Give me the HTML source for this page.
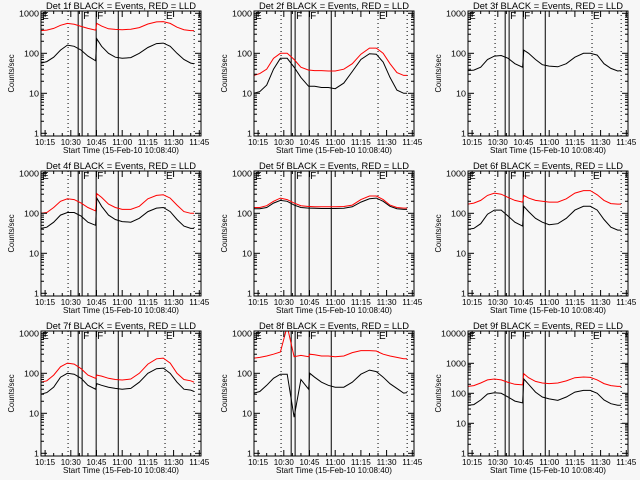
<!DOCTYPE html>
<html><head><meta charset="utf-8"><style>
html,body{margin:0;padding:0;background:#f7f7f7;}
svg{display:block;font-family:"Liberation Sans",sans-serif;}
</style></head><body>
<svg id="c" width="640" height="480" viewBox="0 0 640 480"></svg>
<script>
const times=[12.6,16,20,24,28,32,36,40,44.5,45.2,48,52,56,60,65,70,75,80,84,88,92,96,100,102];
const xTickLabels=["10:15","10:30","10:45","11:00","11:15","11:30","11:45"];
const xTickMinutes=[15,30,45,60,75,90,105];
const solidLines=[34.3,36.6,44.8,57.7];
const dottedLines=[28.4,85,102];
const det1Black=[57,62,80,120,160,150,120,85,65,230,150,100,80,75,78,100,140,175,180,150,100,70,57,55];
const det1Red=[370,380,420,500,560,530,470,420,380,560,480,410,395,390,400,440,540,610,620,560,450,390,370,370];
const det2Black=[10,11,16,40,75,75,45,25,15,15,15,14,14,13,18,35,70,98,95,60,25,12,10,10];
const det2Red=[28,31,40,75,100,100,70,45,38,38,37,37,36,36,40,55,95,135,135,100,55,33,28,28];
const det3Black=[37,38,45,70,85,88,75,55,45,120,100,70,52,48,46,55,80,100,100,90,55,42,36,37];
const det4Black=[42,45,60,90,105,105,85,60,50,240,150,90,70,62,60,75,110,135,140,110,70,48,42,42];
const det4Red=[100,105,140,200,230,220,180,140,115,310,250,170,140,125,125,150,230,280,290,240,160,110,100,100];
const det5Black=[130,130,140,180,210,200,160,140,135,135,133,132,132,132,133,145,190,230,240,200,150,130,125,125];
const det5Red=[140,140,155,200,240,220,180,155,148,148,145,145,145,145,148,160,220,270,270,220,160,140,135,135];
const det6Black=[40,42,55,95,120,120,85,60,48,150,110,75,60,52,55,75,120,150,150,120,70,45,38,38];
const det6Red=[170,180,210,280,320,300,250,210,190,280,240,210,200,190,190,230,320,370,370,290,210,175,170,170];
const det7Black=[30,33,45,80,100,95,75,50,40,55,50,45,42,40,42,60,100,130,135,100,60,40,38,35];
const det7Red=[60,65,90,145,180,170,130,90,75,90,85,75,70,68,72,100,170,230,240,180,100,70,65,60];
const det8Black=[32,35,50,75,95,95,8,70,40,100,80,60,50,45,45,60,95,120,110,80,55,42,32,33];
const det8Red=[240,250,270,300,340,1500,260,280,260,300,290,270,270,260,270,330,370,370,360,300,270,250,230,230];
const det9Black=[40,42,60,95,105,100,75,55,48,300,200,110,75,65,58,75,110,125,125,100,60,45,40,40];
const det9Red=[170,180,220,280,300,280,230,200,190,450,330,250,220,210,220,260,330,350,340,280,210,180,170,170];

const panels=[
 {n:1,b:det1Black,r:det1Red,top:3},{n:2,b:det2Black,r:det2Red,top:3},{n:3,b:det3Black,r:null,top:3},
 {n:4,b:det4Black,r:det4Red,top:3},{n:5,b:det5Black,r:det5Red,top:3},{n:6,b:det6Black,r:det6Red,top:3},
 {n:7,b:det7Black,r:det7Red,top:3},{n:8,b:det8Black,r:det8Red,top:3},{n:9,b:det9Black,r:det9Red,top:4}];
const svg=document.getElementById('c');
const NS='http://www.w3.org/2000/svg';
function mk(tag,attrs,parent){const e=document.createElementNS(NS,tag);for(const k in attrs)e.setAttribute(k,attrs[k]);parent.appendChild(e);return e;}
panels.forEach((p,i)=>{
 const ox=Math.round((i%3)*213.33), oy=Math.floor(i/3)*160;
 const L=ox+41,R=ox+201,T=oy+11,B=oy+136;
 const g=mk('g',{},svg);
 
 
 const xs=t=>L+(t-12.6)*(160/93.4);
 const y1=oy+133.3, per=120/p.top;
 const ys=v=>y1-Math.log10(v)*per;
 const clip=mk('clipPath',{id:'cp'+i},g);
 mk('rect',{x:L,y:T,width:R-L,height:B-T},clip);
 solidLines.forEach(t=>{const l=mk('line',{x1:xs(t),x2:xs(t),y1:T,y2:B,stroke:'#000','stroke-width':1},g);
  });
 dottedLines.forEach(t=>{const l=mk('line',{x1:xs(t),x2:xs(t),y1:T,y2:B,stroke:'#000','stroke-width':1,'stroke-dasharray':'1,3'},g);
  });
 [['E',L+1],['F',xs(36.6)+1],['F',xs(44.8)+1],['E',xs(85)+1]].forEach(m=>{const tx=mk('text',{x:m[1],y:T+8,'font-size':10},g);tx.textContent=m[0];
  });
 const pts=a=>a.map((v,k)=>xs(times[k]).toFixed(1)+','+ys(v).toFixed(1)).join(' ');
 if(p.r){const pr=mk('polyline',{points:pts(p.r),fill:'none',stroke:'#ff0000','stroke-width':1,'clip-path':'url(#cp'+i+')'},g);
  }
 const pb=mk('polyline',{points:pts(p.b),fill:'none',stroke:'#000','stroke-width':1,'clip-path':'url(#cp'+i+')'},g);
 
 const box=mk('rect',{x:L,y:T,width:R-L,height:B-T,fill:'none',stroke:'#000','stroke-width':1},g);
 
 for(let d=0;d<=p.top;d++){
  const y=ys(Math.pow(10,d));
  mk('line',{x1:L,x2:L+6,y1:y,y2:y,stroke:'#000'},g);mk('line',{x1:R-6,x2:R,y1:y,y2:y,stroke:'#000'},g);
  const s=String(Math.pow(10,d));
  const tl=mk('text',{x:L-2,y:y+3,'font-size':8.5,'text-anchor':'end',textLength:s.length*5,lengthAdjust:'spacingAndGlyphs'},g);tl.textContent=s;
  
  if(d<p.top)for(let m=2;m<10;m++){const ym=ys(m*Math.pow(10,d));if(ym<T)break;
   mk('line',{x1:L,x2:L+3,y1:ym,y2:ym,stroke:'#000'},g);mk('line',{x1:R-3,x2:R,y1:ym,y2:ym,stroke:'#000'},g);}
 }
 for(let t=15;t<=105;t+=5){const x=xs(t),len=(t%15==0)?6:3;
  mk('line',{x1:x,x2:x,y1:B,y2:B-len,stroke:'#000'},g);mk('line',{x1:x,x2:x,y1:T,y2:T+len,stroke:'#000'},g);}
 xTickMinutes.forEach((t,k)=>{const tl=mk('text',{x:xs(t),y:B+9,'font-size':8.5,'text-anchor':'middle',textLength:20,lengthAdjust:'spacingAndGlyphs'},g);tl.textContent=xTickLabels[k];
  });
 const xl=mk('text',{x:(L+R)/2,y:B+17,'font-size':8.5,'text-anchor':'middle',textLength:116,lengthAdjust:'spacingAndGlyphs'},g);xl.textContent='Start Time (15-Feb-10 10:08:40)';
 
 const yl=mk('text',{x:0,y:0,'font-size':8,'text-anchor':'middle',textLength:38,lengthAdjust:'spacingAndGlyphs',transform:`translate(${ox+14},${(T+B)/2}) rotate(-90)`},g);yl.textContent='Counts/sec';
 
 const ti=mk('text',{x:(L+R)/2,y:oy+9,'font-size':9,'text-anchor':'middle',textLength:150,lengthAdjust:'spacingAndGlyphs'},g);ti.textContent='Det '+p.n+'f BLACK = Events, RED = LLD';
 
});
</script>
</body></html>
